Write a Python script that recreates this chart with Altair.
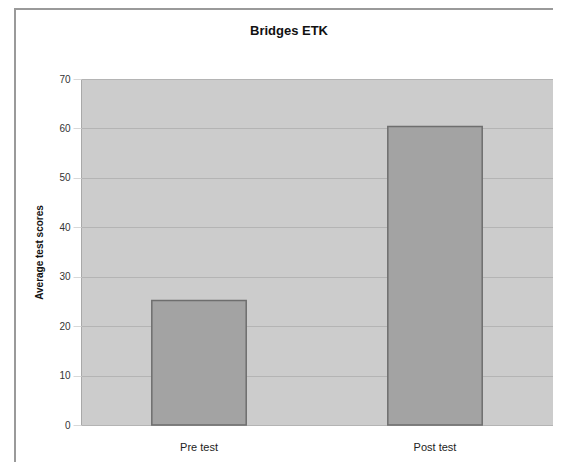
import altair as alt
import pandas as pd

categories = ["Pre test", "Post test"]
scores = [25.2, 60.4]
y_ticks = [0, 10, 20, 30, 40, 50, 60, 70]

df = pd.DataFrame({"test": categories, "score": scores})

FONT = "Liberation Sans"

bars = alt.Chart(df).mark_bar(
    color="#a3a3a3", stroke="#6e6e6e", strokeWidth=1.5
).encode(
    x=alt.X("test:N", sort=categories, title=None,
            scale=alt.Scale(paddingInner=0.6, paddingOuter=0.3),
            axis=alt.Axis(labelAngle=0, labelFontSize=11, labelColor="#222222",
                          labelPadding=16, ticks=False, domain=False,
                          labelFont=FONT)),
    y=alt.Y("score:Q", title="Average test scores",
            scale=alt.Scale(domain=[0, 70], nice=False),
            axis=alt.Axis(values=y_ticks, labelFontSize=10, labelColor="#333333",
                          labelFont=FONT, tickColor="#d8d8d8", tickSize=8,
                          labelPadding=3, domain=False, gridColor="#b4b4b4",
                          titleFont=FONT, titleFontSize=10, titleFontWeight="bold",
                          titleColor="#111111", titlePadding=14)),
)

border = alt.Chart(pd.DataFrame({"a": [0]})).mark_rect(
    fill=None, stroke="#9a9a9a", strokeWidth=2, clip=False
).encode(
    x=alt.value(-66), x2=alt.value(500), y=alt.value(-70), y2=alt.value(420)
)

chart = alt.layer(bars, border).properties(
    width=472, height=346,
    padding={"left": 73, "top": 71, "right": 0, "bottom": 37},
    autosize=alt.AutoSizeParams(type="none"),
    background="white",
    title=alt.Title("Bridges ETK", font=FONT, fontSize=13, fontWeight="bold",
                    color="#111111", frame="group", dx=-28, offset=0, dy=30),
).configure_view(
    fill="#cccccc", stroke="#a8a8a8", strokeWidth=1
)

chart.save("out.html", embed_options={"renderer": "svg", "actions": False})
